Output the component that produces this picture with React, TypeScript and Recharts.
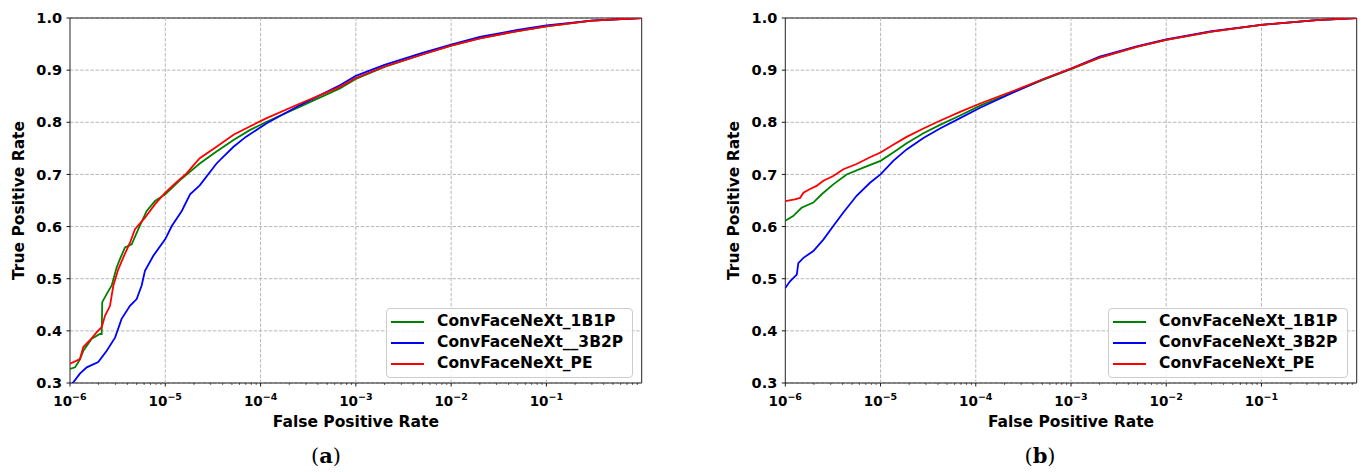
import React from 'react';
import {
  LineChart,
  Line,
  XAxis,
  YAxis,
  CartesianGrid,
  ReferenceLine,
  ReferenceArea,
  Legend,
} from 'recharts';

// ---------- axes ----------
const xMajorTicks = [1e-6, 1e-5, 1e-4, 1e-3, 1e-2, 1e-1];
const xMajorExponents = [-6, -5, -4, -3, -2, -1];
const xGridValues = [1e-5, 1e-4, 1e-3, 1e-2, 1e-1];
const minorMantissas = [2, 3, 4, 5, 6, 7, 8, 9];
const xDomain = [1e-6, 1];
const yTicks = [0.3, 0.4, 0.5, 0.6, 0.7, 0.8, 0.9, 1.0];
const yDomain = [0.3, 1.0];

const seriesNames = ['ConvFaceNeXt_1B1P', 'ConvFaceNeXt_3B2P', 'ConvFaceNeXt_PE'];
const legendLabelsA = ['ConvFaceNeXt_1B1P', 'ConvFaceNeXt__3B2P', 'ConvFaceNeXt_PE'];
const legendLabelsB = ['ConvFaceNeXt_1B1P', 'ConvFaceNeXt_3B2P', 'ConvFaceNeXt_PE'];
const seriesColors = ['#008000', '#0000ff', '#ff0000'];
const panelLabels = ['a', 'b'];

// ---------- panel (a) ----------
const fprA_1B1P = [1e-6, 1.13e-6, 1.27e-6, 1.38e-6, 1.69e-6, 2.06e-6, 2.15e-6, 2.18e-6, 2.43e-6, 2.74e-6, 3.09e-6, 3.35e-6, 3.78e-6, 4.44e-6, 5.21e-6, 6.38e-6, 7.8e-6, 1e-5, 1.43e-5, 2.3e-5, 3.45e-5, 5.2e-5, 7.7e-5, 1.16e-4, 2.6e-4, 6.8e-4, 1e-3, 2e-3, 5e-3, 1e-2, 2e-2, 5e-2, 1e-1, 3e-1, 1];
const tprA_1B1P = [0.327, 0.33, 0.345, 0.362, 0.385, 0.394, 0.394, 0.455, 0.471, 0.487, 0.522, 0.538, 0.56, 0.566, 0.595, 0.63, 0.649, 0.662, 0.689, 0.721, 0.744, 0.766, 0.785, 0.801, 0.83, 0.865, 0.883, 0.906, 0.930, 0.947, 0.961, 0.975, 0.984, 0.995, 1.0];

const fprA_3B2P = [1.05e-6, 1.27e-6, 1.5e-6, 1.98e-6, 2.43e-6, 2.97e-6, 3.48e-6, 4.26e-6, 5.01e-6, 5.65e-6, 6.12e-6, 7.49e-6, 1e-5, 1.17e-5, 1.49e-5, 1.82e-5, 2.3e-5, 3.45e-5, 5.2e-5, 7.0e-5, 1.16e-4, 2.6e-4, 6.8e-4, 1e-3, 2e-3, 5e-3, 1e-2, 2e-2, 5e-2, 1e-1, 3e-1, 1];
const tprA_3B2P = [0.298, 0.318, 0.33, 0.34, 0.362, 0.387, 0.423, 0.448, 0.461, 0.487, 0.515, 0.544, 0.576, 0.601, 0.63, 0.662, 0.679, 0.721, 0.753, 0.772, 0.798, 0.833, 0.871, 0.889, 0.910, 0.933, 0.949, 0.964, 0.977, 0.986, 0.995, 1.0];

const fprA_PE = [1e-6, 1.27e-6, 1.38e-6, 1.62e-6, 1.9e-6, 2.15e-6, 2.33e-6, 2.63e-6, 2.85e-6, 3.21e-6, 3.63e-6, 4.26e-6, 4.81e-6, 6.12e-6, 7.8e-6, 1e-5, 1.22e-5, 1.67e-5, 2.3e-5, 3.45e-5, 5.2e-5, 7.7e-5, 1.16e-4, 2.6e-4, 6.8e-4, 1e-3, 2e-3, 5e-3, 1e-2, 2e-2, 5e-2, 1e-1, 3e-1, 1];
const tprA_PE = [0.337, 0.346, 0.369, 0.382, 0.397, 0.407, 0.429, 0.448, 0.487, 0.518, 0.541, 0.569, 0.595, 0.617, 0.643, 0.665, 0.68, 0.702, 0.731, 0.753, 0.776, 0.792, 0.808, 0.836, 0.868, 0.885, 0.907, 0.930, 0.947, 0.961, 0.975, 0.984, 0.995, 1.0];

// ---------- panel (b) ----------
const fprB_1B1P = [1e-6, 1.21e-6, 1.48e-6, 1.97e-6, 2.41e-6, 3.19e-6, 4.41e-6, 6.6e-6, 1e-5, 1.36e-5, 1.88e-5, 2.82e-5, 4.21e-5, 6.84e-5, 1.11e-4, 3e-4, 5e-4, 1e-3, 2e-3, 5e-3, 1e-2, 3e-2, 1e-1, 3.8e-1, 1];
const tprB_1B1P = [0.611, 0.62, 0.636, 0.646, 0.662, 0.681, 0.70, 0.713, 0.726, 0.742, 0.76, 0.779, 0.795, 0.813, 0.832, 0.864, 0.881, 0.902, 0.924, 0.945, 0.958, 0.974, 0.987, 0.996, 1.0];

const fprB_3B2P = [1e-6, 1.12e-6, 1.32e-6, 1.37e-6, 1.55e-6, 1.97e-6, 2.51e-6, 3.19e-6, 4.07e-6, 5.61e-6, 7.75e-6, 1e-5, 1.36e-5, 1.88e-5, 2.82e-5, 4.21e-5, 6.84e-5, 1.11e-4, 3e-4, 5e-4, 1e-3, 2e-3, 5e-3, 1e-2, 3e-2, 1e-1, 3.8e-1, 1];
const tprB_3B2P = [0.482, 0.495, 0.508, 0.53, 0.54, 0.553, 0.575, 0.601, 0.627, 0.659, 0.684, 0.70, 0.726, 0.748, 0.770, 0.788, 0.808, 0.828, 0.864, 0.882, 0.903, 0.926, 0.946, 0.959, 0.975, 0.987, 0.996, 1.0];

const fprB_PE = [1e-6, 1.26e-6, 1.43e-6, 1.55e-6, 1.82e-6, 2.13e-6, 2.51e-6, 3.19e-6, 4.07e-6, 5.61e-6, 7.75e-6, 1e-5, 1.36e-5, 1.88e-5, 2.82e-5, 4.21e-5, 6.84e-5, 1.11e-4, 3e-4, 5e-4, 1e-3, 2e-3, 5e-3, 1e-2, 3e-2, 1e-1, 3.8e-1, 1];
const tprB_PE = [0.649, 0.652, 0.655, 0.665, 0.672, 0.678, 0.688, 0.697, 0.71, 0.72, 0.733, 0.742, 0.757, 0.772, 0.788, 0.803, 0.82, 0.836, 0.866, 0.882, 0.903, 0.924, 0.945, 0.958, 0.974, 0.987, 0.996, 1.0];

// ---------- helpers ----------
type Pt = { x: number; y: number };
const zip = (xs: number[], ys: number[]): Pt[] => xs.map((x, i) => ({ x, y: ys[i] }));

const xMinorTicks: number[] = [];
xMajorTicks.forEach((d) => minorMantissas.forEach((m) => xMinorTicks.push(d * m)));
const xAllTicks = [...xMajorTicks, ...xMinorTicks];

const FONT = '"DejaVu Sans", Verdana, sans-serif';
const GRID = '#b0b0b0';

function XTick(props: any) {
  const { x, y, payload } = props;
  const idx = xMajorTicks.indexOf(payload.value);
  const major = idx >= 0;
  return (
    <g>
      <line x1={x} x2={x} y1={y} y2={y + (major ? 3.5 : 2)} stroke="#000" strokeWidth={major ? 0.9 : 0.6} />
      {major && (
        <text x={x} y={y + 23} textAnchor="middle" fontFamily={FONT} fontWeight="bold" fill="#000">
          <tspan fontSize={13.5}>10</tspan>
          <tspan fontSize={9.5} dy={-6.5}>{'\u2212' + Math.abs(xMajorExponents[idx])}</tspan>
        </text>
      )}
    </g>
  );
}

function XTitle(props: any) {
  const vb = props.viewBox || {};
  return (
    <text x={vb.x + vb.width / 2} y={vb.y + 44} textAnchor="middle" fontFamily={FONT} fontWeight="bold" fontSize={15.5} fill="#000">
      False Positive Rate
    </text>
  );
}

function YTitle(props: any) {
  const vb = props.viewBox || {};
  const cx = vb.x + vb.width - 46;
  const cy = vb.y + vb.height / 2;
  return (
    <text x={cx} y={cy} transform={`rotate(-90 ${cx} ${cy})`} textAnchor="middle" fontFamily={FONT} fontWeight="bold" fontSize={15.5} fill="#000">
      True Positive Rate
    </text>
  );
}

function LegendBox(props: any) {
  const labels: string[] = props.labels;
  return (
    <div
      style={{
        border: '1px solid #cccccc',
        borderRadius: 4,
        background: 'rgba(255,255,255,0.8)',
        padding: '2px 0 3px 4px',
        boxSizing: 'border-box',
        fontFamily: FONT,
        fontWeight: 'bold',
        fontSize: 15.5,
        color: '#000',
        lineHeight: '21px',
      }}
    >
      {labels.map((label, i) => (
        <div key={i} style={{ display: 'flex', alignItems: 'center', height: 21, whiteSpace: 'nowrap' }}>
          <span style={{ display: 'inline-block', width: 33, height: 2, background: seriesColors[i], marginRight: 13 }} />
          <span>{label}</span>
        </div>
      ))}
    </div>
  );
}

type PanelProps = {
  width: number;
  marginLeft: number;
  marginRight: number;
  series: Pt[][];
  legendLabels: string[];
  legendLeft: number;
  legendWidth: number;
};

function Panel(p: PanelProps) {
  return (
    <LineChart
      width={p.width}
      height={472}
      margin={{ top: 18, right: p.marginRight, bottom: 59, left: p.marginLeft }}
    >
      <CartesianGrid vertical={false} stroke={GRID} strokeDasharray="3.5 1.6" strokeWidth={0.9} />
      {xGridValues.map((v) => (
        <ReferenceLine key={v} x={v} stroke={GRID} strokeDasharray="3.5 1.6" strokeWidth={0.9} />
      ))}
      <XAxis
        dataKey="x"
        type="number"
        scale="log"
        domain={xDomain}
        allowDataOverflow
        ticks={xAllTicks}
        interval={0}
        height={30}
        tickSize={0}
        tickMargin={0}
        tickLine={false}
        axisLine={false}
        tick={<XTick />}
        label={<XTitle />}
      />
      <YAxis
        type="number"
        domain={yDomain}
        allowDataOverflow
        ticks={yTicks}
        interval={0}
        width={50}
        tickSize={3.5}
        tickMargin={4.5}
        tickLine={{ stroke: '#000', strokeWidth: 0.9 }}
        axisLine={false}
        tickFormatter={(v: number) => v.toFixed(1)}
        tick={{ fill: '#000', fontFamily: FONT, fontWeight: 'bold', fontSize: 14.5 }}
        label={<YTitle />}
      />
      <ReferenceArea
        x1={xDomain[0]}
        x2={xDomain[1]}
        y1={yDomain[0]}
        y2={yDomain[1]}
        fill="none"
        fillOpacity={0}
        stroke="#222"
        strokeWidth={1}
        ifOverflow="visible"
      />
      {p.series.map((d, i) => (
        <Line
          key={seriesNames[i]}
          data={d}
          dataKey="y"
          name={seriesNames[i]}
          type="linear"
          stroke={seriesColors[i]}
          strokeWidth={1.8}
          dot={false}
          activeDot={false}
          isAnimationActive={false}
        />
      ))}
      <Legend
        layout="vertical"
        align="center"
        verticalAlign="middle"
        content={<LegendBox labels={p.legendLabels} />}
        wrapperStyle={{ left: p.legendLeft, top: 308, width: p.legendWidth, height: 69, right: 'auto', bottom: 'auto' }}
      />
    </LineChart>
  );
}

export default function App() {
  const seriesA = [zip(fprA_1B1P, tprA_1B1P), zip(fprA_3B2P, tprA_3B2P), zip(fprA_PE, tprA_PE)];
  const seriesB = [zip(fprB_1B1P, tprB_1B1P), zip(fprB_3B2P, tprB_3B2P), zip(fprB_PE, tprB_PE)];
  return (
    <div style={{ position: 'absolute', left: 0, top: 0, width: 1365, height: 472, background: '#fff', overflow: 'hidden' }}>
      <div style={{ position: 'absolute', left: 0, top: 0 }}>
        <Panel width={660} marginLeft={20} marginRight={18.3} series={seriesA} legendLabels={legendLabelsA} legendLeft={386} legendWidth={247} />
      </div>
      <div style={{ position: 'absolute', left: 680, top: 0 }}>
        <Panel width={685} marginLeft={55.3} marginRight={8.3} series={seriesB} legendLabels={legendLabelsB} legendLeft={428} legendWidth={240} />
      </div>
      <svg style={{ position: 'absolute', left: 0, top: 0 }} width={1365} height={472}>
        {[326, 1040].map((cx, i) => (
          <text key={i} x={cx} y={463} textAnchor="middle" fontFamily='"DejaVu Serif", "Liberation Serif", serif' fontSize={21} fill="#000">
            (<tspan fontWeight="bold">{panelLabels[i]}</tspan>)
          </text>
        ))}
      </svg>
    </div>
  );
}
